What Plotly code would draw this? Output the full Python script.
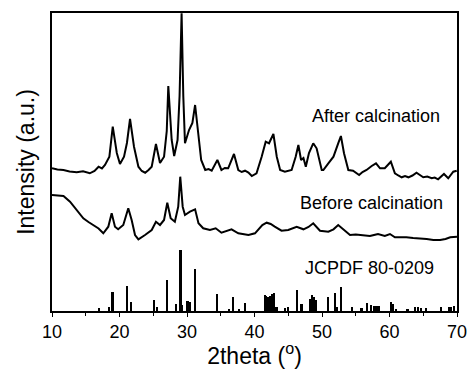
import plotly.graph_objects as go

# After calcination pattern (2theta, intensity a.u.)
after_x = [10.0, 10.8, 11.7, 12.6, 13.66, 14.6, 15.6, 16.3, 16.9, 17.4, 17.85, 18.5, 19.0, 19.6, 20.07,
           20.67, 21.1, 21.56, 22.15, 22.8, 23.3, 23.8, 24.3, 24.77, 25.4, 26.0, 26.6, 27.0, 27.23, 27.5,
           27.73, 28.1, 28.6, 28.9, 29.2, 29.45, 29.7, 30.3, 30.8, 31.2, 31.7, 32.1, 32.7, 33.2,
           33.66, 34.5, 35.1, 35.6, 36.1, 36.96, 37.6, 38.1, 38.6, 39.1, 39.6, 40.3, 41.06, 41.66, 42.15,
           42.8, 43.3, 43.8, 44.5, 45.0, 45.5, 46.1, 46.5, 46.9, 47.25, 47.6, 48.07, 48.7, 49.2, 49.96,
           50.2, 50.94, 51.7, 52.4, 52.8, 53.26, 53.9, 54.6, 55.0, 55.5, 56.0, 56.6, 57.36, 58.0, 58.6,
           59.3, 60.2, 60.8, 61.3, 61.8, 62.3, 62.8, 63.4, 64.0, 64.5, 65.0, 65.6, 66.25, 66.7, 67.2,
           68.07, 68.7, 69.45, 69.96]
after_y = [142.7, 141.5, 141.0, 139.5, 138.7, 139.8, 137.7, 140.0, 144.3, 142.5, 146.0, 154.3, 184.3, 158.0, 147.0,
           154.3, 168.0, 192.0, 164.3, 144.3, 140.0, 138.3, 141.0, 144.3, 167.0, 148.0, 154.3, 180.0, 225.0, 190.0,
           171.0, 155.0, 171.0, 215.0, 297.7, 215.0, 167.7, 181.0, 188.0, 206.0, 174.3, 151.0, 141.0, 142.0,
           140.3, 151.0, 141.0, 143.0, 142.7, 157.0, 141.0, 139.0, 140.3, 138.5, 135.0, 137.7, 154.3, 169.3, 167.7,
           177.0, 154.3, 141.0, 139.3, 140.5, 141.0, 154.3, 166.0, 151.0, 153.0, 144.3, 158.0, 167.7, 162.7, 141.0,
           141.0, 147.7, 154.3, 167.7, 175.0, 157.7, 141.0, 140.3, 138.5, 136.0, 139.0, 141.0, 145.0, 147.7, 142.7,
           142.7, 149.3, 137.7, 135.5, 133.7, 135.0, 133.7, 135.5, 138.3, 136.0, 133.7, 134.5, 132.7, 133.5, 131.7,
           137.0, 132.7, 139.3, 140.3]

# Before calcination pattern
before_x = [10.0, 10.8, 11.7, 12.67, 13.66, 14.64, 15.4, 16.1, 16.9, 17.6, 18.34, 18.84, 19.33, 19.8, 20.56,
            21.3, 21.8, 22.3, 22.8, 23.78, 24.77, 25.4, 26.0, 26.6, 27.08, 27.58, 28.2, 28.7, 29.0, 29.36,
            29.7, 30.44, 31.2, 31.7, 32.4, 33.4, 34.25, 35.1, 35.8, 36.6, 37.6, 38.4, 39.1, 40.07, 41.16,
            41.8, 42.4, 43.0, 44.0, 45.0, 46.25, 47.25, 48.0, 48.7, 49.7, 50.94, 51.7, 52.4, 53.2, 54.15,
            55.0, 55.6, 56.3, 57.1, 57.7, 58.3, 59.3, 60.07, 60.8, 61.6, 62.5, 63.5, 64.5, 65.5, 66.5,
            67.5, 68.3, 69.0, 70.0]
before_y = [116.0, 115.5, 115.0, 109.3, 101.0, 92.7, 89.0, 86.0, 82.5, 77.7, 84.3, 97.7, 84.3, 81.7, 86.0,
            102.7, 91.0, 76.0, 71.7, 76.0, 81.0, 89.3, 86.0, 91.0, 108.3, 92.7, 89.3, 104.3, 134.3, 104.3,
            96.0, 99.3, 101.7, 87.7, 82.7, 81.0, 82.7, 78.3, 80.0, 81.7, 77.7, 77.0, 76.0, 77.7, 86.0,
            88.3, 87.0, 84.3, 80.3, 81.0, 84.3, 81.7, 84.0, 87.7, 80.3, 79.3, 81.7, 86.0, 81.0, 76.0,
            76.5, 76.0, 75.5, 75.0, 76.0, 77.0, 75.0, 77.0, 73.7, 74.0, 73.7, 73.0, 72.7, 72.0, 71.0,
            71.0, 72.0, 73.7, 74.3]

# JCPDF 80-0209 reference lines
ref_pos = [17.0, 18.5, 19.0, 21.2, 21.7, 25.2, 25.6, 27.1, 28.4, 29.07, 29.35, 30.1, 30.4, 31.2,
           34.5, 36.2, 36.8, 37.7, 38.6, 41.56, 41.8, 42.05, 42.4, 42.7, 42.9, 43.3, 44.5, 45.0,
           46.3, 47.0, 48.2, 48.55, 48.85, 49.06, 50.9, 51.93, 52.3, 52.9, 54.5, 55.9, 56.7, 57.3,
           57.7, 58.0, 58.4, 60.2, 60.5, 61.0, 62.7, 63.8, 64.3, 64.7, 65.5, 67.7, 68.8, 69.2, 69.6]
ref_int = [2.7, 4.0, 19.3, 25.0, 9.3, 11.0, 4.3, 31.0, 7.0, 61.0, 6.0, 10.0, 9.0, 41.7,
           16.7, 2.0, 13.7, 2.0, 8.3, 16.0, 15.3, 14.3, 15.0, 17.0, 17.7, 3.7, 3.0, 3.7,
           21.0, 7.0, 11.7, 16.0, 14.3, 11.0, 14.3, 17.7, 4.0, 24.3, 4.0, 3.0, 8.0, 6.0,
           5.0, 5.0, 5.0, 9.0, 7.0, 2.0, 1.5, 4.0, 4.0, 3.0, 3.0, 4.0, 4.0, 4.0, 5.0]

labels = ["After calcination", "Before calcination", "JCPDF 80-0209"]
label_x = [58.0, 57.3, 57.0]
label_y = [195, 108, 43]

FONT = "Liberation Sans, Arial, sans-serif"

fig = go.Figure()
fig.add_trace(go.Bar(x=ref_pos, y=ref_int, width=0.25, marker=dict(color="black", line=dict(width=0)),
                     showlegend=False))
fig.add_trace(go.Scatter(x=after_x, y=after_y, mode="lines", line=dict(color="black", width=2),
                         showlegend=False))
fig.add_trace(go.Scatter(x=before_x, y=before_y, mode="lines", line=dict(color="black", width=2),
                         showlegend=False))

for t, x, y in zip(labels, label_x, label_y):
    fig.add_annotation(x=x, y=y, text=t, showarrow=False, xanchor="center", yanchor="middle",
                       font=dict(family=FONT, size=18, color="black"))

fig.update_layout(
    width=468, height=369,
    margin=dict(l=52, r=11, t=13, b=58),
    paper_bgcolor="white", plot_bgcolor="white",
    font=dict(family=FONT, color="black"),
    bargap=0,
    xaxis=dict(range=[10, 70], dtick=10, tick0=10, ticks="outside", ticklen=4, tickwidth=1.2,
               tickcolor="black", showgrid=False, zeroline=False, automargin=False,
               showline=True, linecolor="black", linewidth=1.5, mirror=True,
               tickfont=dict(family=FONT, size=18, color="black"),
               minor=dict(dtick=5, tick0=10, ticks="outside", ticklen=3, tickcolor="black", showgrid=False),
               title=dict(text="2theta (<sup>o</sup>)", font=dict(family=FONT, size=23, color="black"),
                          standoff=3)),
    yaxis=dict(range=[0, 298], showticklabels=False, ticks="", showgrid=False, zeroline=False,
               automargin=False,
               showline=True, linecolor="black", linewidth=1.5, mirror=True,
               title=dict(text="Intensity (a.u.)", font=dict(family=FONT, size=23, color="black"),
                          standoff=9)),
)

fig.write_html("out.html", config={"displayModeBar": False},
               post_script="document.body.style.margin='0';document.body.style.overflow='hidden';")
